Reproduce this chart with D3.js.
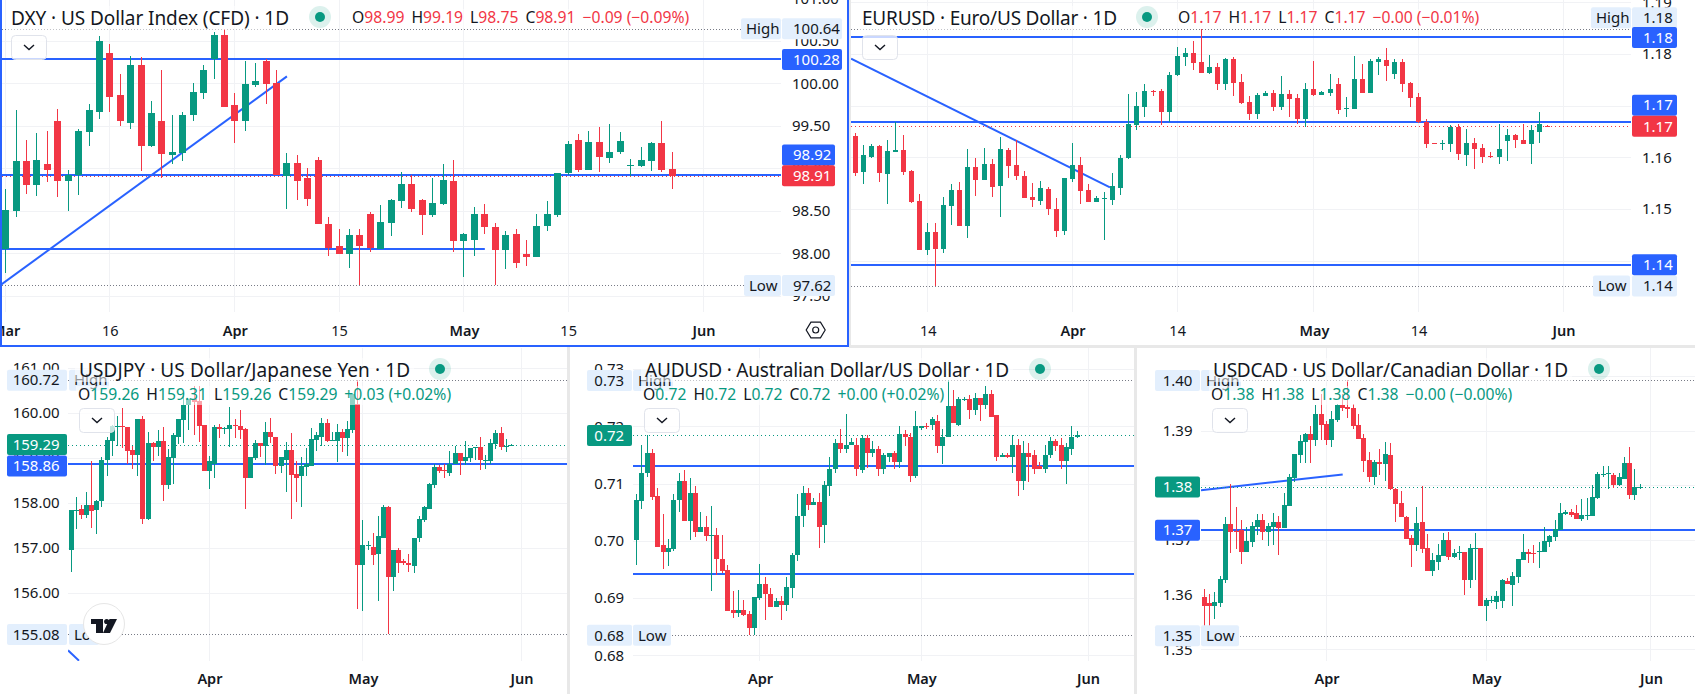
<!DOCTYPE html>
<html>
<head>
<meta charset="utf-8">
<style>
  html, body { margin: 0; padding: 0; background: #fff; overflow: hidden; }
  svg { display: block; }
  text { font-family: "Noto Sans", "Open Sans", sans-serif; fill: #131722; }
</style>
<script src="https://cdn.jsdelivr.net/npm/d3@7/dist/d3.min.js"></script>
</head>
<body>
<svg id="board" width="1695" height="694"></svg>
<script>
// Daily candles as [open, high, low, close]
const dxyCandles = [
[98.05,98.76,97.77,98.51],[98.50,99.69,98.43,99.08],[99.08,99.33,98.70,98.80],[98.80,99.41,98.67,99.10],[99.05,99.44,98.84,98.98],
[99.56,99.70,98.66,98.85],[98.85,98.98,98.50,98.92],[98.92,99.46,98.69,99.44],[99.43,99.75,99.26,99.68],[99.66,100.55,99.58,100.50],
[100.35,100.46,99.66,99.84],[99.86,100.11,99.50,99.55],[99.53,100.32,99.46,100.22],[100.22,100.31,98.97,99.26],[99.26,99.79,99.25,99.65],
[99.55,100.15,98.88,99.17],[99.16,99.63,99.05,99.19],[99.18,99.66,99.08,99.63],[99.62,100.00,99.56,99.90],[99.88,100.22,99.81,100.16],
[100.29,100.60,100.05,100.57],[100.57,100.64,99.72,99.72],[99.74,99.89,99.30,99.55],[99.56,100.26,99.44,99.99],[99.98,100.24,99.95,100.03],
[100.26,100.28,99.76,99.99],[100.00,100.16,98.92,98.92],[98.91,99.18,98.52,99.06],[99.06,99.16,98.63,98.85],[98.89,99.00,98.55,98.64],
[99.10,99.13,98.34,98.34],[98.34,98.42,97.97,98.06],[98.08,98.29,97.99,97.99],[97.99,98.29,97.83,98.22],[98.22,98.29,97.62,98.09],
[98.46,98.48,98.01,98.06],[98.05,98.57,98.05,98.37],[98.36,98.64,98.20,98.62],[98.61,98.95,98.53,98.82],[98.82,98.92,98.49,98.52],
[98.63,98.64,98.22,98.45],[98.45,98.88,98.43,98.59],[98.58,99.05,98.57,98.86],[98.85,99.10,98.01,98.14],[98.14,98.24,97.72,98.23],
[98.15,98.54,97.97,98.46],[98.46,98.58,98.23,98.31],[98.31,98.35,97.62,98.04],[98.04,98.26,97.82,98.22],[98.23,98.28,97.83,97.89],
[97.99,98.16,97.85,97.96],[97.96,98.46,97.96,98.32],[98.32,98.61,98.26,98.46],[98.45,98.94,98.42,98.94],[98.94,99.32,98.92,99.29],
[99.33,99.40,98.95,98.98],[98.98,99.44,98.98,99.31],[99.31,99.48,98.96,99.13],[99.12,99.52,99.06,99.19],[99.19,99.42,99.17,99.32],
[99.03,99.11,98.91,99.04],[99.03,99.25,99.02,99.10],[99.09,99.31,98.97,99.30],[99.30,99.55,98.95,98.98],[98.99,99.19,98.75,98.91]
];
const eurCandles = [
[1.1642,1.1648,1.1563,1.1570],[1.1572,1.1623,1.1549,1.1605],[1.1601,1.1625,1.1598,1.1621],[1.1621,1.1623,1.1553,1.1569],[1.1567,1.1633,1.1510,1.1613],
[1.1611,1.1669,1.1611,1.1615],[1.1615,1.1644,1.1565,1.1572],[1.1574,1.1576,1.1512,1.1514],[1.1516,1.1530,1.1421,1.1421],[1.1421,1.1473,1.1411,1.1456],
[1.1456,1.1472,1.1351,1.1423],[1.1423,1.1524,1.1415,1.1508],[1.1506,1.1549,1.1470,1.1536],[1.1536,1.1553,1.1468,1.1468],[1.1468,1.1617,1.1444,1.1582],
[1.1582,1.1599,1.1526,1.1557],[1.1557,1.1619,1.1557,1.1588],[1.1588,1.1596,1.1524,1.1543],[1.1545,1.1640,1.1485,1.1617],[1.1615,1.1619,1.1561,1.1584],
[1.1586,1.1633,1.1557,1.1563],[1.1563,1.1574,1.1522,1.1522],[1.1524,1.1551,1.1503,1.1518],[1.1516,1.1555,1.1508,1.1541],[1.1539,1.1543,1.1489,1.1501],
[1.1501,1.1522,1.1446,1.1458],[1.1458,1.1561,1.1450,1.1561],[1.1559,1.1627,1.1553,1.1586],[1.1586,1.1601,1.1510,1.1534],[1.1536,1.1549,1.1514,1.1514],
[1.1514,1.1526,1.1514,1.1522],[1.1520,1.1532,1.1441,1.1522],[1.1518,1.1570,1.1508,1.1545],[1.1541,1.1605,1.1528,1.1599],[1.1598,1.1722,1.1596,1.1664],
[1.1662,1.1726,1.1652,1.1700],[1.1698,1.1741,1.1679,1.1728],[1.1728,1.1731,1.1718,1.1726],[1.1728,1.1733,1.1662,1.1687],[1.1687,1.1766,1.1669,1.1760],
[1.1759,1.1813,1.1757,1.1797],[1.1795,1.1811,1.1776,1.1801],[1.1801,1.1826,1.1770,1.1782],[1.1784,1.1849,1.1764,1.1764],[1.1764,1.1799,1.1762,1.1774],
[1.1774,1.1782,1.1731,1.1741],[1.1741,1.1792,1.1731,1.1790],[1.1790,1.1794,1.1718,1.1743],[1.1745,1.1762,1.1704,1.1706],[1.1708,1.1718,1.1673,1.1683],
[1.1683,1.1724,1.1675,1.1720],[1.1718,1.1728,1.1718,1.1724],[1.1724,1.1731,1.1689,1.1698],[1.1698,1.1757,1.1691,1.1722],[1.1722,1.1730,1.1679,1.1712],
[1.1714,1.1722,1.1664,1.1675],[1.1675,1.1743,1.1658,1.1733],[1.1733,1.1786,1.1718,1.1720],[1.1720,1.1728,1.1720,1.1726],[1.1724,1.1762,1.1718,1.1733],
[1.1741,1.1753,1.1683,1.1691],[1.1693,1.1716,1.1679,1.1695],[1.1693,1.1797,1.1693,1.1751],[1.1751,1.1780,1.1724,1.1724],[1.1724,1.1790,1.1724,1.1786],
[1.1784,1.1795,1.1760,1.1790],[1.1788,1.1811,1.1747,1.1776],[1.1762,1.1790,1.1751,1.1784],[1.1784,1.1790,1.1726,1.1741],[1.1743,1.1745,1.1698,1.1714],
[1.1716,1.1724,1.1667,1.1669],[1.1669,1.1675,1.1619,1.1625],[1.1627,1.1627,1.1625,1.1625],[1.1625,1.1633,1.1615,1.1627],[1.1625,1.1662,1.1611,1.1658],
[1.1658,1.1664,1.1594,1.1607],[1.1605,1.1654,1.1584,1.1627],[1.1627,1.1638,1.1578,1.1617],[1.1619,1.1625,1.1590,1.1601],[1.1603,1.1611,1.1599,1.1601],
[1.1601,1.1664,1.1588,1.1617],[1.1631,1.1654,1.1592,1.1644],[1.1644,1.1646,1.1619,1.1633],[1.1633,1.1664,1.1625,1.1625],[1.1625,1.1662,1.1588,1.1652],
[1.1650,1.1687,1.1627,1.1664],[1.1661,1.1662,1.1659,1.1660]
];
const jpyCandles = [
[156.96,157.83,156.47,157.83],[157.83,158.12,157.43,157.85],[157.87,157.96,157.65,157.74],[157.74,158.23,157.67,157.96],[157.96,158.92,157.45,157.81],
[157.83,158.07,157.30,158.05],[158.03,159.01,157.90,158.96],[158.94,159.45,158.59,159.39],[159.36,159.72,159.03,159.70],[159.67,159.92,159.25,159.70],
[159.70,160.10,159.21,159.67],[159.67,159.67,158.87,159.14],[159.16,159.27,158.76,159.05],[159.05,159.85,158.59,159.85],[159.85,159.92,157.54,157.65],
[157.65,159.56,157.61,159.32],[159.32,159.34,158.92,159.23],[159.23,159.61,159.03,159.36],[159.36,159.67,158.05,158.39],[158.39,159.19,158.30,159.01],
[158.99,159.54,158.41,159.50],[159.47,159.85,159.30,159.85],[159.83,160.36,159.32,160.16],[160.16,160.30,159.61,160.30],[160.30,160.58,159.50,160.23],
[160.25,160.58,159.34,159.70],[159.72,159.72,158.70,158.70],[158.70,159.03,158.30,158.92],[158.87,159.72,158.56,159.67],[159.67,159.74,159.43,159.63],
[159.63,159.67,159.52,159.65],[159.63,160.12,159.23,159.72],[159.72,159.85,159.43,159.70],[159.70,160.05,159.41,159.61],[159.63,159.65,157.87,158.56],
[158.56,159.01,158.54,159.01],[158.99,159.39,158.96,159.32],[159.32,159.32,159.01,159.25],[159.25,159.79,158.83,159.58],[159.58,159.87,159.32,159.45],
[159.47,159.47,158.63,158.81],[158.81,159.01,158.67,159.01],[158.96,159.34,158.25,159.16],[159.16,159.54,157.63,158.61],[158.63,158.92,158.01,158.56],
[158.59,159.01,157.90,158.81],[158.79,159.21,158.59,158.85],[158.81,159.65,158.81,159.41],[159.39,159.56,159.14,159.50],[159.47,159.87,159.25,159.76],
[159.76,159.85,159.34,159.36],[159.36,159.58,159.36,159.39],[159.36,159.74,158.90,159.58],[159.58,159.63,159.12,159.43],[159.43,159.81,159.03,159.63],
[159.61,160.41,159.54,160.41],[160.19,160.72,155.65,156.61],[156.61,157.61,155.61,157.07],[157.05,157.16,156.96,157.07],[157.03,157.32,156.63,156.85],
[156.87,157.70,155.83,157.27],[157.23,157.96,157.23,157.90],[157.90,157.94,155.08,156.36],[156.36,156.96,156.05,156.96],[156.96,156.99,156.45,156.67],
[156.70,156.76,156.63,156.67],[156.67,156.87,156.47,156.61],[156.59,157.23,156.45,157.23],[157.21,157.70,157.12,157.63],[157.61,157.94,157.58,157.90],
[157.87,158.43,157.87,158.41],[158.39,158.85,158.32,158.79],[158.79,158.83,158.65,158.70],[158.72,158.87,158.54,158.70],[158.67,159.14,158.59,158.87],
[158.85,159.25,158.85,159.10],[159.10,159.10,158.61,158.92],[158.92,159.36,158.83,159.01],[158.99,159.21,158.90,159.21],[159.21,159.23,158.94,159.23],
[159.23,159.47,158.72,158.94],[158.92,159.05,158.76,158.94],[158.92,159.41,158.87,159.32],[159.30,159.61,159.19,159.54],[159.54,159.67,159.16,159.23],
[159.25,159.41,159.12,159.27],[159.26,159.31,159.26,159.29]
];
const audCandles = [
[.7001,.7081,.6957,.7071],[.7069,.7168,.7055,.7119],[.7118,.7185,.7112,.7154],[.7154,.7161,.7072,.7076],[.7078,.7093,.6990,.6990],
[.6992,.7046,.6950,.6980],[.6980,.7004,.6956,.6987],[.6985,.7081,.6982,.7072],[.7071,.7118,.7050,.7104],[.7104,.7123,.7034,.7034],
[.7034,.7109,.7001,.7083],[.7083,.7095,.7006,.7015],[.7015,.7051,.7015,.7024],[.7024,.7043,.6999,.7008],[.7008,.7060,.6912,.7011],
[.7011,.7022,.6940,.6968],[.6969,.7011,.6943,.6947],[.6949,.6957,.6877,.6877],[.6879,.6912,.6865,.6874],[.6874,.6914,.6867,.6879],
[.6879,.6896,.6868,.6870],[.6872,.6877,.6835,.6847],[.6847,.6901,.6835,.6901],[.6900,.6959,.6896,.6924],[.6924,.6936,.6861,.6907],
[.6907,.6917,.6884,.6884],[.6884,.6900,.6884,.6895],[.6895,.6903,.6861,.6888],[.6888,.6936,.6877,.6919],[.6917,.6978,.6900,.6976],
[.6975,.7081,.6964,.7044],[.7043,.7095,.7024,.7083],[.7083,.7093,.7053,.7062],[.7062,.7074,.7062,.7067],[.7067,.7083,.6987,.7024],
[.7027,.7105,.6996,.7097],[.7095,.7147,.7078,.7126],[.7125,.7177,.7118,.7170],[.7170,.7196,.7153,.7160],[.7160,.7221,.7154,.7168],
[.7167,.7179,.7167,.7172],[.7167,.7179,.7114,.7126],[.7123,.7184,.7118,.7179],[.7179,.7184,.7128,.7153],[.7153,.7174,.7147,.7160],
[.7160,.7165,.7114,.7126],[.7126,.7153,.7116,.7149],[.7147,.7154,.7138,.7153],[.7153,.7156,.7126,.7137],[.7137,.7200,.7128,.7186],
[.7186,.7194,.7165,.7181],[.7181,.7189,.7102,.7114],[.7114,.7226,.7109,.7201],[.7197,.7201,.7193,.7200],[.7201,.7205,.7196,.7200],
[.7203,.7217,.7193,.7212],[.7210,.7219,.7154,.7165],[.7165,.7196,.7135,.7182],[.7181,.7280,.7181,.7236],[.7236,.7264,.7205,.7205],
[.7203,.7252,.7201,.7247],[.7246,.7252,.7245,.7248],[.7247,.7254,.7212,.7228],[.7228,.7259,.7219,.7249],[.7249,.7249,.7210,.7238],
[.7238,.7271,.7231,.7257],[.7257,.7263,.7217,.7217],[.7219,.7219,.7140,.7146],[.7147,.7153,.7146,.7149],[.7149,.7154,.7144,.7147],
[.7147,.7184,.7119,.7168],[.7168,.7177,.7079,.7105],[.7105,.7174,.7088,.7153],[.7153,.7170,.7102,.7147],[.7149,.7158,.7116,.7126],
[.7130,.7137,.7125,.7126],[.7126,.7168,.7119,.7149],[.7149,.7181,.7144,.7175],[.7175,.7177,.7156,.7165],[.7167,.7179,.7125,.7140],
[.7140,.7170,.7099,.7163],[.7161,.7200,.7149,.7182],[.7182,.7191,.7180,.7184]
];
const cadCandles = [
[1.3595,1.3610,1.3530,1.3580],[1.3584,1.3602,1.3525,1.3579],[1.3579,1.3604,1.3555,1.3586],[1.3584,1.3634,1.3577,1.3628],[1.3626,1.3742,1.3621,1.3729],
[1.3729,1.3802,1.3676,1.3714],[1.3716,1.3760,1.3683,1.3714],[1.3718,1.3736,1.3656,1.3678],[1.3678,1.3723,1.3678,1.3698],[1.3696,1.3733,1.3687,1.3725],
[1.3723,1.3747,1.3709,1.3736],[1.3736,1.3747,1.3700,1.3714],[1.3714,1.3731,1.3689,1.3725],[1.3723,1.3749,1.3690,1.3733],[1.3733,1.3744,1.3672,1.3722],
[1.3722,1.3786,1.3722,1.3764],[1.3762,1.3821,1.3762,1.3815],[1.3813,1.3857,1.3806,1.3857],[1.3855,1.3892,1.3841,1.3881],[1.3879,1.3896,1.3841,1.3894],
[1.3894,1.3909,1.3841,1.3883],[1.3883,1.3947,1.3872,1.3931],[1.3931,1.3967,1.3883,1.3910],[1.3912,1.3918,1.3874,1.3883],[1.3883,1.3936,1.3870,1.3921],
[1.3920,1.3949,1.3916,1.3947],[1.3947,1.3967,1.3936,1.3942],[1.3943,1.3993,1.3923,1.3940],[1.3942,1.3949,1.3903,1.3909],[1.3910,1.3931,1.3885,1.3885],
[1.3887,1.3894,1.3824,1.3844],[1.3846,1.3861,1.3806,1.3815],[1.3815,1.3846,1.3800,1.3843],[1.3843,1.3866,1.3819,1.3839],[1.3839,1.3879,1.3808,1.3857],
[1.3855,1.3877,1.3791,1.3793],[1.3793,1.3795,1.3733,1.3766],[1.3767,1.3789,1.3742,1.3742],[1.3742,1.3744,1.3701,1.3701],[1.3703,1.3709,1.3650,1.3690],
[1.3690,1.3760,1.3679,1.3731],[1.3733,1.3799,1.3676,1.3683],[1.3685,1.3711,1.3643,1.3643],[1.3643,1.3676,1.3634,1.3663],[1.3659,1.3692,1.3645,1.3672],
[1.3670,1.3712,1.3670,1.3700],[1.3700,1.3714,1.3663,1.3668],[1.3668,1.3683,1.3667,1.3676],[1.3676,1.3689,1.3663,1.3678],[1.3678,1.3678,1.3599,1.3626],
[1.3626,1.3692,1.3613,1.3685],[1.3683,1.3712,1.3626,1.3685],[1.3685,1.3685,1.3580,1.3580],[1.3580,1.3593,1.3551,1.3591],[1.3590,1.3597,1.3584,1.3591],
[1.3586,1.3606,1.3573,1.3597],[1.3588,1.3628,1.3575,1.3626],[1.3625,1.3630,1.3619,1.3619],[1.3617,1.3641,1.3579,1.3634],[1.3632,1.3665,1.3621,1.3665],
[1.3663,1.3711,1.3663,1.3678],[1.3678,1.3683,1.3657,1.3674],[1.3676,1.3690,1.3657,1.3675],[1.3678,1.3696,1.3648,1.3679],[1.3678,1.3723,1.3678,1.3698],
[1.3696,1.3709,1.3687,1.3707],[1.3705,1.3736,1.3698,1.3720],[1.3718,1.3767,1.3718,1.3749],[1.3747,1.3755,1.3745,1.3751],[1.3751,1.3756,1.3742,1.3745],
[1.3749,1.3764,1.3738,1.3738],[1.3738,1.3775,1.3734,1.3745],[1.3744,1.3777,1.3736,1.3745],[1.3744,1.3800,1.3744,1.3778],[1.3777,1.3824,1.3775,1.3821],
[1.3819,1.3835,1.3815,1.3821],[1.3821,1.3835,1.3793,1.3822],[1.3819,1.3822,1.3795,1.3800],[1.3800,1.3822,1.3799,1.3815],[1.3811,1.3852,1.3811,1.3841],
[1.3841,1.3870,1.3775,1.3782],[1.3782,1.3830,1.3773,1.3797],[1.3795,1.3802,1.3793,1.3797]
];

// Price axis ticks
const dxyPriceTicks = [97.5, 98, 98.5, 99, 99.5, 100, 100.5, 101];
const eurPriceTicks = [1.14, 1.15, 1.16, 1.17, 1.18, 1.19];
const jpyPriceTicks = [156, 157, 158, 159, 160, 161];
const audPriceTicks = [0.68, 0.69, 0.70, 0.71, 0.72, 0.73];
const cadPriceTicks = [1.35, 1.36, 1.37, 1.38, 1.39, 1.40];

// Time axis ticks as [bar number, label]
const dxyTimeTicks = [[0,"Mar"],[10,"16"],[22,"Apr"],[32,"15"],[44,"May"],[54,"15"],[67,"Jun"]];
const eurTimeTicks = [[9,"14"],[27,"Apr"],[40,"14"],[57,"May"],[70,"14"],[88,"Jun"]];
const jpyTimeTicks = [[27,"Apr"],[57,"May"],[88,"Jun"]];
const audTimeTicks = [[23,"Apr"],[53,"May"],[84,"Jun"]];
const cadTimeTicks = [[23,"Apr"],[53,"May"],[84,"Jun"]];

// Horizontal levels and sloped trend lines
const dxyLevels = [100.28, 98.92];
const dxyShortLevel = [98.05, 46];
const dxyTrend = [[-0.55, 97.62], [27, 100.08]];
const eurLevels = [1.1832, 1.1669, 1.1392];
const eurTrend = [[-0.53, 1.1791], [31.65, 1.1542]];
const jpyLevels = [158.86];
const jpyTrend = [[-0.65, 154.73], [1.5, 154.5]];
const audLevels = [0.7130, 0.6942];
const cadLevels = [1.3718];
const cadTrend = [[-0.62, 1.3791], [26.03, 1.3820]];

// Session extremes and last price
const dxyExtremes = [100.64, 97.62, 98.91];
const eurExtremes = [1.1849, 1.1351, 1.1660];
const jpyExtremes = [160.72, 155.08, 159.29];
const audExtremes = [0.7280, 0.6835, 0.7184];
const cadExtremes = [1.3992, 1.3525, 1.3797];

// Titles and OHLC readouts
const dxyTitle = "DXY · US Dollar Index (CFD) · 1D";
const eurTitle = "EURUSD · Euro/US Dollar · 1D";
const jpyTitle = "USDJPY · US Dollar/Japanese Yen · 1D";
const audTitle = "AUDUSD · Australian Dollar/US Dollar · 1D";
const cadTitle = "USDCAD · US Dollar/Canadian Dollar · 1D";
const dxyReadout = ["98.99", "99.19", "98.75", "98.91", "−0.09 (−0.09%)"];
const eurReadout = ["1.17", "1.17", "1.17", "1.17", "−0.00 (−0.01%)"];
const jpyReadout = ["159.26", "159.31", "159.26", "159.29", "+0.03 (+0.02%)"];
const audReadout = ["0.72", "0.72", "0.72", "0.72", "+0.00 (+0.02%)"];
const cadReadout = ["1.38", "1.38", "1.38", "1.38", "−0.00 (−0.00%)"];

const UP = "#089981", DOWN = "#f23645", BLUE = "#2962ff", GRID = "#f1f2f5", TAG = "#e3effd";
const svg = d3.select("#board");

const panels = [
  { id: "dxy", candles: dxyCandles, xRange: [5.7, 672.3], yDomain: [98, 100], yRange: [253.2, 83.2],
    plot: [2, 0, 781, 312], timeY: 325.5, axisX: 792, axisOnLeft: false, digits: 2,
    ticks: dxyPriceTicks, time: dxyTimeTicks, levels: dxyLevels, short: dxyShortLevel, trend: dxyTrend,
    ext: dxyExtremes, lastColor: DOWN, bodyW: 7, title: dxyTitle, titleX: 11, titleY: 18, titleW: 278,
    dot: [320, 17], readout: dxyReadout, readX: 352, readY: 18, button: [11, 35],
    boxX: 782, boxW: [60, 53], hiX: 741, loX: 744,
    levelTags: [[100.28, 0, 0], [98.92, -20, 1]], lastDy: 0, hiDy: 0, hiW: 0 },
  { id: "eur", candles: eurCandles, xRange: [855.3, 1547.3], yDomain: [1.14, 1.18], yRange: [260.7, 54],
    plot: [851, 0, 1631, 312], timeY: 325.5, axisX: 1642, axisOnLeft: false, digits: 2,
    ticks: eurPriceTicks, time: eurTimeTicks, levels: eurLevels, short: null, trend: eurTrend,
    ext: eurExtremes, lastColor: DOWN, bodyW: 5, title: eurTitle, titleX: 862, titleY: 18, titleW: 255,
    dot: [1147, 17], readout: eurReadout, readX: 1178, readY: 18, button: [862, 35],
    boxX: 1632, boxW: [45, 45], hiX: 1591, loX: 1593,
    levelTags: [[1.1832, 0, 0], [1.1669, -16.5, 0], [1.1392, 0, 0]], lastDy: 0, hiDy: -11, hiW: 0 },
  { id: "jpy", candles: jpyCandles, xRange: [71.3, 511.3], yDomain: [156, 160], yRange: [593, 412.6],
    plot: [68, 348, 567, 661], timeY: 673.5, axisX: 12.7, axisOnLeft: true, digits: 2,
    ticks: jpyPriceTicks, time: jpyTimeTicks, levels: jpyLevels, short: null, trend: jpyTrend,
    ext: jpyExtremes, lastColor: UP, bodyW: 5, title: jpyTitle, titleX: 79, titleY: 370, titleW: 331,
    dot: [440, 369], readout: jpyReadout, readX: 78, readY: 395, button: [79, 408],
    boxX: 7, boxW: [60, 60], hiX: 68, loX: 68,
    levelTags: [[158.86, 2, 0]], lastDy: 0, hiDy: 0, hiW: 0, logo: true },
  { id: "aud", candles: audCandles, xRange: [636.3, 1077.3], yDomain: [0.68, 0.72], yRange: [655.3, 426.3],
    plot: [633, 348, 1134, 661], timeY: 673.5, axisX: 594.3, axisOnLeft: true, digits: 2,
    ticks: audPriceTicks, time: audTimeTicks, levels: audLevels, short: null, trend: null,
    ext: audExtremes, lastColor: UP, bodyW: 5, title: audTitle, titleX: 645, titleY: 370, titleW: 364,
    dot: [1040, 369], readout: audReadout, readX: 643, readY: 395, button: [644, 408],
    boxX: 587, boxW: [45, 45], hiX: 632, loX: 632, levelTags: [], lastDy: 0, hiDy: 0, hiW: 0 },
  { id: "cad", candles: cadCandles, xRange: [1204.3, 1640.3], yDomain: [1.35, 1.39], yRange: [649.3, 430.7],
    plot: [1201, 348, 1695, 661], timeY: 673.5, axisX: 1162.7, axisOnLeft: true, digits: 2,
    ticks: cadPriceTicks, time: cadTimeTicks, levels: cadLevels, short: null, trend: cadTrend,
    ext: cadExtremes, lastColor: UP, bodyW: 5, title: cadTitle, titleX: 1213, titleY: 370, titleW: 355,
    dot: [1599, 369], readout: cadReadout, readX: 1211, readY: 395, button: [1212, 408],
    boxX: 1155, boxW: [45, 45], hiX: 1200, loX: 1200, levelTags: [[1.3718, 0, 0]], lastDy: 0, hiDy: 0, hiW: 0 }
];

function drawTag(g, x, w, cy, fill, color, label, textX) {
  g.append("rect").attr("x", x).attr("y", cy - 10.5).attr("width", w).attr("height", 21).attr("rx", 2).attr("fill", fill);
  g.append("text").attr("x", textX).attr("y", cy).attr("dy", "0.35em").attr("font-size", 15).style("fill", color).text(label);
}

function drawPanel(p) {
  const g = svg.append("g").attr("class", p.id);
  const [L, T, R, B] = p.plot;
  const x = d3.scaleLinear().domain([0, p.candles.length - 1]).range(p.xRange);
  const y = d3.scaleLinear().domain(p.yDomain).range(p.yRange);
  const fmt = d3.format("." + p.digits + "f");
  const col = i => Math.floor(x(i)) + 0.5;

  svg.append("clipPath").attr("id", "clip-" + p.id).append("rect")
    .attr("x", L).attr("y", T).attr("width", R - L).attr("height", B - T);
  const plot = g.append("g").attr("clip-path", `url(#clip-${p.id})`);

  // Grid
  plot.selectAll("line.h").data(p.ticks).join("line").attr("class", "h")
    .attr("x1", L).attr("x2", R).attr("y1", d => Math.round(y(d)) + 0.5).attr("y2", d => Math.round(y(d)) + 0.5)
    .attr("stroke", GRID).attr("stroke-width", 1);
  plot.selectAll("line.v").data(p.time).join("line").attr("class", "v")
    .attr("x1", d => col(d[0])).attr("x2", d => col(d[0])).attr("y1", T).attr("y2", B)
    .attr("stroke", GRID).attr("stroke-width", 1);

  // Drawn levels and trend lines
  plot.selectAll("line.level").data(p.levels).join("line").attr("class", "level")
    .attr("x1", L).attr("x2", R).attr("y1", d => Math.round(y(d))).attr("y2", d => Math.round(y(d)))
    .attr("stroke", BLUE).attr("stroke-width", 2);
  if (p.short) {
    plot.append("line").attr("x1", L).attr("x2", x(p.short[1])).attr("y1", Math.round(y(p.short[0]))).attr("y2", Math.round(y(p.short[0])))
      .attr("stroke", BLUE).attr("stroke-width", 2);
  }
  if (p.trend) {
    plot.append("path").attr("fill", "none").attr("stroke", BLUE).attr("stroke-width", 2)
      .attr("d", d3.line().x(d => x(d[0])).y(d => y(d[1]))(p.trend));
  }

  // High, low and last price guides
  const [hi, lo, last] = p.ext;
  plot.selectAll("line.ext").data([hi, lo]).join("line").attr("class", "ext")
    .attr("x1", L).attr("x2", R).attr("y1", d => Math.round(y(d)) + 0.5).attr("y2", d => Math.round(y(d)) + 0.5)
    .attr("stroke", "#787b86").attr("stroke-width", 1).attr("stroke-dasharray", "1 2");
  plot.append("line").attr("x1", L).attr("x2", R).attr("y1", Math.round(y(last)) + 0.5).attr("y2", Math.round(y(last)) + 0.5)
    .attr("stroke", p.lastColor).attr("stroke-width", 1).attr("stroke-dasharray", "1 3");

  // Candles
  const bars = plot.selectAll("g.bar").data(p.candles).join("g").attr("class", "bar");
  const tone = d => d[3] >= d[0] ? UP : DOWN;
  bars.append("line")
    .attr("x1", (d, i) => col(i)).attr("x2", (d, i) => col(i))
    .attr("y1", d => Math.round(y(d[1]))).attr("y2", d => Math.round(y(d[2]))).attr("stroke", tone).attr("stroke-width", 1);
  bars.append("rect")
    .attr("x", (d, i) => col(i) - p.bodyW / 2).attr("width", p.bodyW)
    .attr("y", d => Math.round(y(Math.max(d[0], d[3]))))
    .attr("height", d => Math.max(1, Math.round(y(Math.min(d[0], d[3]))) - Math.round(y(Math.max(d[0], d[3])))))
    .attr("fill", tone);

  // Price axis labels
  const axis = d3.axisRight(y).tickValues(p.ticks).tickFormat(fmt).tickSize(0).tickPadding(0);
  const ag = g.append("g").attr("transform", `translate(${p.axisX},0)`).call(axis);
  ag.select(".domain").remove();
  ag.selectAll("text").attr("font-size", 15).attr("font-family", null).style("fill", "#131722");

  // Time axis labels
  const tv = p.time.map(d => d[0]);
  const tl = new Map(p.time);
  const tg = g.append("g").attr("transform", `translate(0,${p.timeY})`)
    .call(d3.axisBottom(x).tickValues(tv).tickFormat(d => tl.get(d)).tickSize(0).tickPadding(0));
  tg.select(".domain").remove();
  tg.selectAll("text").attr("font-size", 14.5).attr("font-family", null).style("fill", "#131722")
    .attr("font-weight", d => /\d/.test(tl.get(d)) ? 400 : 600);

  // Price tags on the axis
  const tags = g.append("g");
  const hiY = y(hi) + p.hiDy, loY = y(lo);
  const hiBox = p.boxW[p.hiW], loBox = p.boxW[1];
  const tagTextX = p.axisOnLeft ? p.axisX : p.axisX + 1;
  const labelSide = p.axisOnLeft
    ? { hi: [p.hiX + 1, 40], lo: [p.loX + 1, p.id === "jpy" ? 30 : 38] }
    : { hi: [p.hiX, 40], lo: [p.loX, 37] };
  tags.append("rect").attr("x", labelSide.hi[0]).attr("y", hiY - 10.5).attr("width", labelSide.hi[1]).attr("height", 21).attr("rx", 2).attr("fill", TAG);
  tags.append("text").attr("x", labelSide.hi[0] + 5).attr("y", hiY).attr("dy", "0.35em").attr("font-size", 15).text("High");
  drawTag(tags, p.boxX, hiBox, hiY, TAG, "#131722", fmt(hi), tagTextX);
  tags.append("rect").attr("x", labelSide.lo[0]).attr("y", loY - 10.5).attr("width", labelSide.lo[1]).attr("height", 21).attr("rx", 2).attr("fill", TAG);
  tags.append("text").attr("x", labelSide.lo[0] + 5).attr("y", loY).attr("dy", "0.35em").attr("font-size", 15).text("Low");
  drawTag(tags, p.boxX, loBox, loY, TAG, "#131722", fmt(lo), tagTextX);
  p.levelTags.forEach(t => drawTag(tags, p.boxX, p.boxW[t[2]], y(t[0]) + t[1], BLUE, "#fff", fmt(t[0]), tagTextX));
  drawTag(tags, p.boxX, p.boxW[p.id === "dxy" ? 1 : 0], y(last) + p.lastDy, p.lastColor, "#fff", fmt(last), tagTextX);

  // Logo badge
  if (p.logo) {
    const badge = g.append("g");
    badge.append("circle").attr("cx", 104).attr("cy", 624).attr("r", 20.5).attr("fill", "#fff").attr("stroke", "#e6e6e6").attr("stroke-width", 1);
    badge.append("path").attr("fill", "#131722").attr("d", "M91 619H103V633H96V624H91Z");
    badge.append("circle").attr("cx", 106.7).attr("cy", 621.5).attr("r", 2.6).attr("fill", "#131722");
    badge.append("path").attr("fill", "#131722").attr("d", "M109.5 619H117L110 633H103Z");
  }

  // Title and readout, on translucent backing that fades the marks below
  const titleG = g.append("g");
  titleG.append("rect").attr("x", p.titleX - 4).attr("y", p.titleY - 12).attr("width", p.titleW + 8).attr("height", 24)
    .attr("fill", "#fff").attr("opacity", 0.55);
  titleG.append("text").attr("x", p.titleX).attr("y", p.titleY).attr("dy", "0.35em")
    .attr("font-size", 19).attr("textLength", p.titleW).attr("lengthAdjust", "spacing").text(p.title);

  const color = p.lastColor;
  const rd = titleG.append("text").attr("x", p.readX).attr("y", p.readY).attr("dy", "0.35em").attr("font-size", 15.7);
  ["O", "H", "L", "C"].forEach((k, i) => {
    rd.append("tspan").attr("dx", i ? 7 : 0).text(k);
    rd.append("tspan").style("fill", color).text(p.readout[i]);
  });
  rd.append("tspan").attr("dx", 7).style("fill", color).text(p.readout[4]);
  const rw = rd.node().getComputedTextLength();
  titleG.insert("rect", "text").attr("x", p.readX - 2).attr("y", p.readY - 9).attr("width", rw + 4).attr("height", 19)
    .attr("fill", "#fff").attr("opacity", 0.55);

  // Live status dot
  g.append("circle").attr("cx", p.dot[0]).attr("cy", p.dot[1]).attr("r", 11).attr("fill", UP).attr("opacity", 0.14);
  g.append("circle").attr("cx", p.dot[0]).attr("cy", p.dot[1]).attr("r", 5).attr("fill", UP);

  // Collapse button
  const [bx, by] = p.button;
  g.append("rect").attr("x", bx + 0.5).attr("y", by + 0.5).attr("width", 35).attr("height", 24).attr("rx", 4)
    .attr("fill", "#fff").attr("fill-opacity", 0.75).attr("stroke", "#e0e3eb");
  g.append("path").attr("d", `M${bx + 13} ${by + 10}L${bx + 18} ${by + 14.5}L${bx + 23} ${by + 10}`)
    .attr("fill", "none").attr("stroke", "#131722").attr("stroke-width", 1.4);
}

panels.forEach(drawPanel);

// Settings glyph in the corner of the first panel
const hex = d3.range(6).map(k => [815.7 + 9.5 * Math.cos(k * Math.PI / 3), 330 + 9 * Math.sin(k * Math.PI / 3)]);
svg.append("path").attr("d", d3.line()(hex) + "Z").attr("fill", "none").attr("stroke", "#131722").attr("stroke-width", 1.2);
svg.append("circle").attr("cx", 815.7).attr("cy", 330).attr("r", 3).attr("fill", "none").attr("stroke", "#131722").attr("stroke-width", 1.2);

// Panel separators and active panel outline
const SEP = "#e8e8e8";
[[849, 0, 2, 348], [849, 345, 846, 3], [567, 347, 3, 347], [1134, 347, 3, 347]].forEach(r =>
  svg.append("rect").attr("x", r[0]).attr("y", r[1]).attr("width", r[2]).attr("height", r[3]).attr("fill", SEP));
svg.append("rect").attr("x", 0).attr("y", 0).attr("width", 2).attr("height", 347).attr("fill", BLUE);
svg.append("rect").attr("x", 847).attr("y", 0).attr("width", 2).attr("height", 347).attr("fill", BLUE);
svg.append("rect").attr("x", 0).attr("y", 345).attr("width", 849).attr("height", 2).attr("fill", BLUE);
</script>
</body>
</html>
